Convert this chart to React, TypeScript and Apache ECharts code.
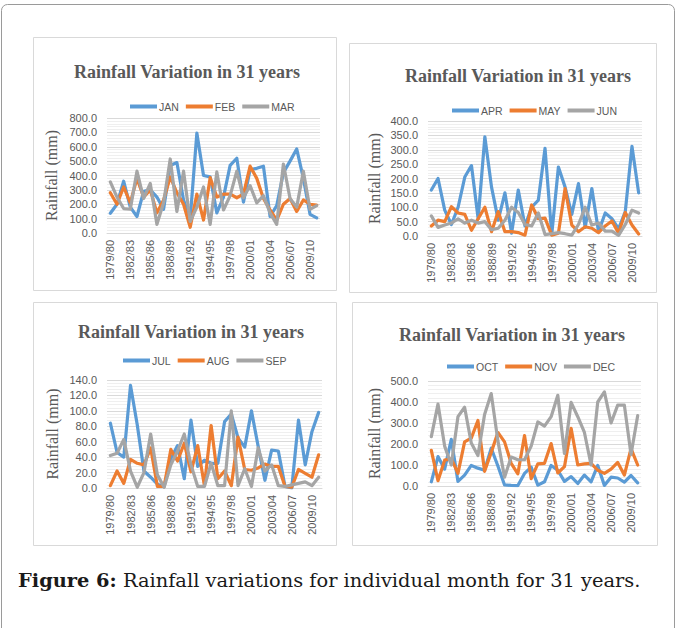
import React, { useEffect, useRef } from "react";
import * as echarts from "echarts";

const categories = [
  "1979/80", "1980/81", "1981/82", "1982/83", "1983/84", "1984/85", "1985/86", "1986/87",
  "1987/88", "1988/89", "1989/90", "1990/91", "1991/92", "1992/93", "1993/94", "1994/95",
  "1995/96", "1996/97", "1997/98", "1998/99", "1999/00", "2000/01", "2001/02", "2002/03",
  "2003/04", "2004/05", "2005/06", "2006/07", "2007/08", "2008/09", "2009/10", "2010/11",
];

const jan = [137, 200, 360, 180, 115, 290, 300, 250, 165, 470, 490, 230, 100, 695, 400, 390, 140, 250, 470, 520, 215, 440, 450, 465, 115, 190, 420, 500, 585, 380, 130, 105];
const feb = [280, 200, 320, 210, 380, 250, 300, 140, 230, 390, 280, 200, 40, 270, 90, 385, 250, 270, 270, 245, 270, 465, 380, 240, 160, 90, 200, 240, 150, 230, 200, 195];
const mar = [355, 250, 170, 165, 430, 240, 345, 60, 210, 515, 150, 430, 80, 180, 320, 60, 425, 160, 260, 430, 245, 330, 210, 260, 140, 60, 480, 240, 180, 430, 165, 190];
const apr = [160, 200, 90, 40, 100, 205, 245, 60, 345, 170, 55, 150, 10, 160, 35, 100, 125, 305, 5, 240, 170, 75, 182, 30, 165, 15, 80, 60, 25, 85, 312, 150];
const may = [35, 55, 50, 102, 80, 75, 20, 60, 100, 15, 85, 15, 15, 12, 3, 108, 60, 62, 3, 10, 165, 38, 15, 32, 27, 12, 35, 52, 10, 82, 38, 7];
const jun = [70, 30, 38, 45, 60, 45, 55, 45, 50, 22, 27, 55, 100, 82, 40, 35, 80, 5, 8, 12, 8, 3, 40, 100, 38, 45, 17, 17, 2, 40, 90, 80];
const jul = [84, 46, 40, 133, 82, 22, 14, 5, 2, 38, 55, 12, 88, 28, 36, 32, 32, 86, 96, 65, 53, 100, 54, 10, 49, 48, 2, 0, 88, 30, 73, 98];
const aug = [3, 22, 6, 37, 32, 30, 52, 2, 2, 50, 35, 58, 21, 55, 3, 81, 12, 22, 3, 66, 24, 23, 26, 31, 28, 28, 2, 1, 24, 19, 14, 43];
const sep = [42, 45, 63, 22, 1, 20, 70, 17, 1, 30, 48, 70, 30, 2, 2, 32, 3, 3, 100, 3, 25, 2, 52, 22, 30, 3, 2, 4, 6, 8, 3, 14];
const oct = [20, 140, 80, 222, 22, 52, 98, 85, 75, 180, 95, 5, 3, 2, 60, 90, 4, 20, 98, 75, 22, 45, 12, 52, 20, 98, 3, 42, 38, 18, 50, 15];
const nov = [170, 25, 123, 130, 60, 210, 228, 312, 70, 160, 255, 210, 108, 58, 240, 35, 105, 108, 202, 62, 92, 275, 100, 105, 108, 75, 60, 80, 112, 52, 178, 100];
const dec = [235, 390, 190, 100, 330, 375, 205, 145, 340, 440, 215, 42, 138, 125, 125, 190, 305, 285, 330, 432, 155, 398, 330, 255, 100, 400, 448, 300, 385, 385, 150, 335];

const panelTitle = "Rainfall Variation in 31 years";
const yAxisName = "Rainfall (mm)";
const caption = "Rainfall variations for individual month for 31 years.";
const captionLabel = "Figure 6:";

const panelSeries = [
  { names: ["JAN", "FEB", "MAR"], data: [jan, feb, mar], max: 800, interval: 100 },
  { names: ["APR", "MAY", "JUN"], data: [apr, may, jun], max: 400, interval: 50 },
  { names: ["JUL", "AUG", "SEP"], data: [jul, aug, sep], max: 140, interval: 20 },
  { names: ["OCT", "NOV", "DEC"], data: [oct, nov, dec], max: 500, interval: 100 },
];

const COLORS = ["#5b9bd5", "#ed7d31", "#a5a5a5"];
const TXT = "#595959";
const SANS = "'Liberation Sans', Arial, sans-serif";
const SERIF = "'Liberation Serif', 'Times New Roman', serif";
const CAPTION_SERIF = "'DejaVu Serif', serif";

// layout (pixels)
const layout = [
  { box: [33, 37, 303, 253], grid: { left: 107, right: 358, top: 118, bottom: 395 }, title: [187, 72], legend: [130, 101], nameGap: 48 },
  { box: [349, 43, 307, 249], grid: { left: 428, right: 36, top: 121, bottom: 392 }, title: [518, 76], legend: [452, 105], nameGap: 46 },
  { box: [33, 302, 303, 243], grid: { left: 107, right: 356, top: 380, bottom: 140 }, title: [191, 332], legend: [123, 355], nameGap: 47 },
  { box: [352, 302, 305, 243], grid: { left: 428, right: 37, top: 381, bottom: 142 }, title: [512, 335], legend: [447, 361], nameGap: 46 },
];

export default function App() {
  const ref = useRef<HTMLDivElement>(null);
  useEffect(() => {
    if (!ref.current) return;
    const chart = echarts.init(ref.current, undefined, { renderer: "svg" });

    const grids: any[] = [];
    const xAxes: any[] = [];
    const yAxes: any[] = [];
    const series: any[] = [];
    const legends: any[] = [];
    const graphics: any[] = [
      {
        type: "rect",
        shape: { x: 1.5, y: 4.5, width: 673, height: 640, r: 6 },
        style: { fill: "#fff", stroke: "#9a9a9a", lineWidth: 1 },
        z: -20,
        silent: true,
      },
    ];

    panelSeries.forEach((p, i) => {
      const L = layout[i];
      grids.push({ ...L.grid });
      xAxes.push({
        type: "category",
        gridIndex: i,
        data: categories,
        boundaryGap: true,
        axisLine: { show: true, lineStyle: { color: "#d9d9d9", width: 1 } },
        axisTick: { show: false },
        axisLabel: {
          rotate: 90,
          interval: 2,
          color: TXT,
          fontSize: 11,
          fontFamily: SANS,
          margin: 7,
        },
        splitLine: { show: false },
      });
      yAxes.push({
        type: "value",
        gridIndex: i,
        min: 0,
        max: p.max,
        interval: p.interval,
        name: yAxisName,
        nameLocation: "middle",
        nameGap: L.nameGap,
        nameTextStyle: { color: TXT, fontFamily: SERIF, fontSize: 16 },
        axisLine: { show: false },
        axisTick: { show: false },
        axisLabel: {
          color: TXT,
          fontSize: 11,
          fontFamily: SANS,
          margin: 10,
          formatter: (v: number) => v.toFixed(1),
        },
        splitLine: { show: true, lineStyle: { color: "#d9d9d9", width: 1 } },
        minorTick: { show: false, splitNumber: 5 },
        minorSplitLine: { show: true, lineStyle: { color: "#efefef", width: 1 } },
      });
      p.names.forEach((name, k) => {
        series.push({
          type: "line",
          name,
          xAxisIndex: i,
          yAxisIndex: i,
          data: p.data[k],
          symbol: "none",
          lineStyle: { color: COLORS[k], width: 3.2, join: "round", cap: "round" },
          itemStyle: { color: COLORS[k] },
        });
      });
      legends.push({
        data: p.names.map((n) => ({ name: n, icon: "rect" })),
        left: L.legend[0],
        top: L.legend[1],
        itemWidth: 27,
        itemHeight: 4,
        itemGap: 7,
        padding: 0,
        textStyle: { color: TXT, fontSize: 10.5, fontFamily: SANS, padding: [0, 0, 0, -3] },
      });
      graphics.push({
        type: "rect",
        shape: { x: L.box[0] + 0.5, y: L.box[1] + 0.5, width: L.box[2], height: L.box[3] },
        style: { fill: "#fff", stroke: "#d9d9d9", lineWidth: 1 },
        z: -10,
        silent: true,
      });
      graphics.push({
        type: "text",
        x: L.title[0],
        y: L.title[1],
        style: {
          text: panelTitle,
          fill: TXT,
          font: `bold 18px ${SERIF}`,
          textAlign: "center",
          textVerticalAlign: "middle",
        },
        z: 10,
      });
    });

    graphics.push({
      type: "text",
      x: 18,
      y: 580,
      style: {
        text: `{b|${captionLabel}} ${caption}`,
        fill: "#1a1a1a",
        font: `19.4px ${CAPTION_SERIF}`,
        textVerticalAlign: "middle",
        rich: {
          b: { fontWeight: "bold", fontFamily: CAPTION_SERIF, fontSize: 19.4, fill: "#1a1a1a" },
        },
      },
      z: 10,
    });

    chart.setOption({
      animation: false,
      backgroundColor: "#ffffff",
      grid: grids,
      xAxis: xAxes,
      yAxis: yAxes,
      series,
      legend: legends,
      graphic: { elements: graphics },
    });
    return () => chart.dispose();
  }, []);
  return (
    <div
      ref={ref}
      style={{ position: "absolute", left: 0, top: 0, width: 678, height: 628 }}
    />
  );
}
